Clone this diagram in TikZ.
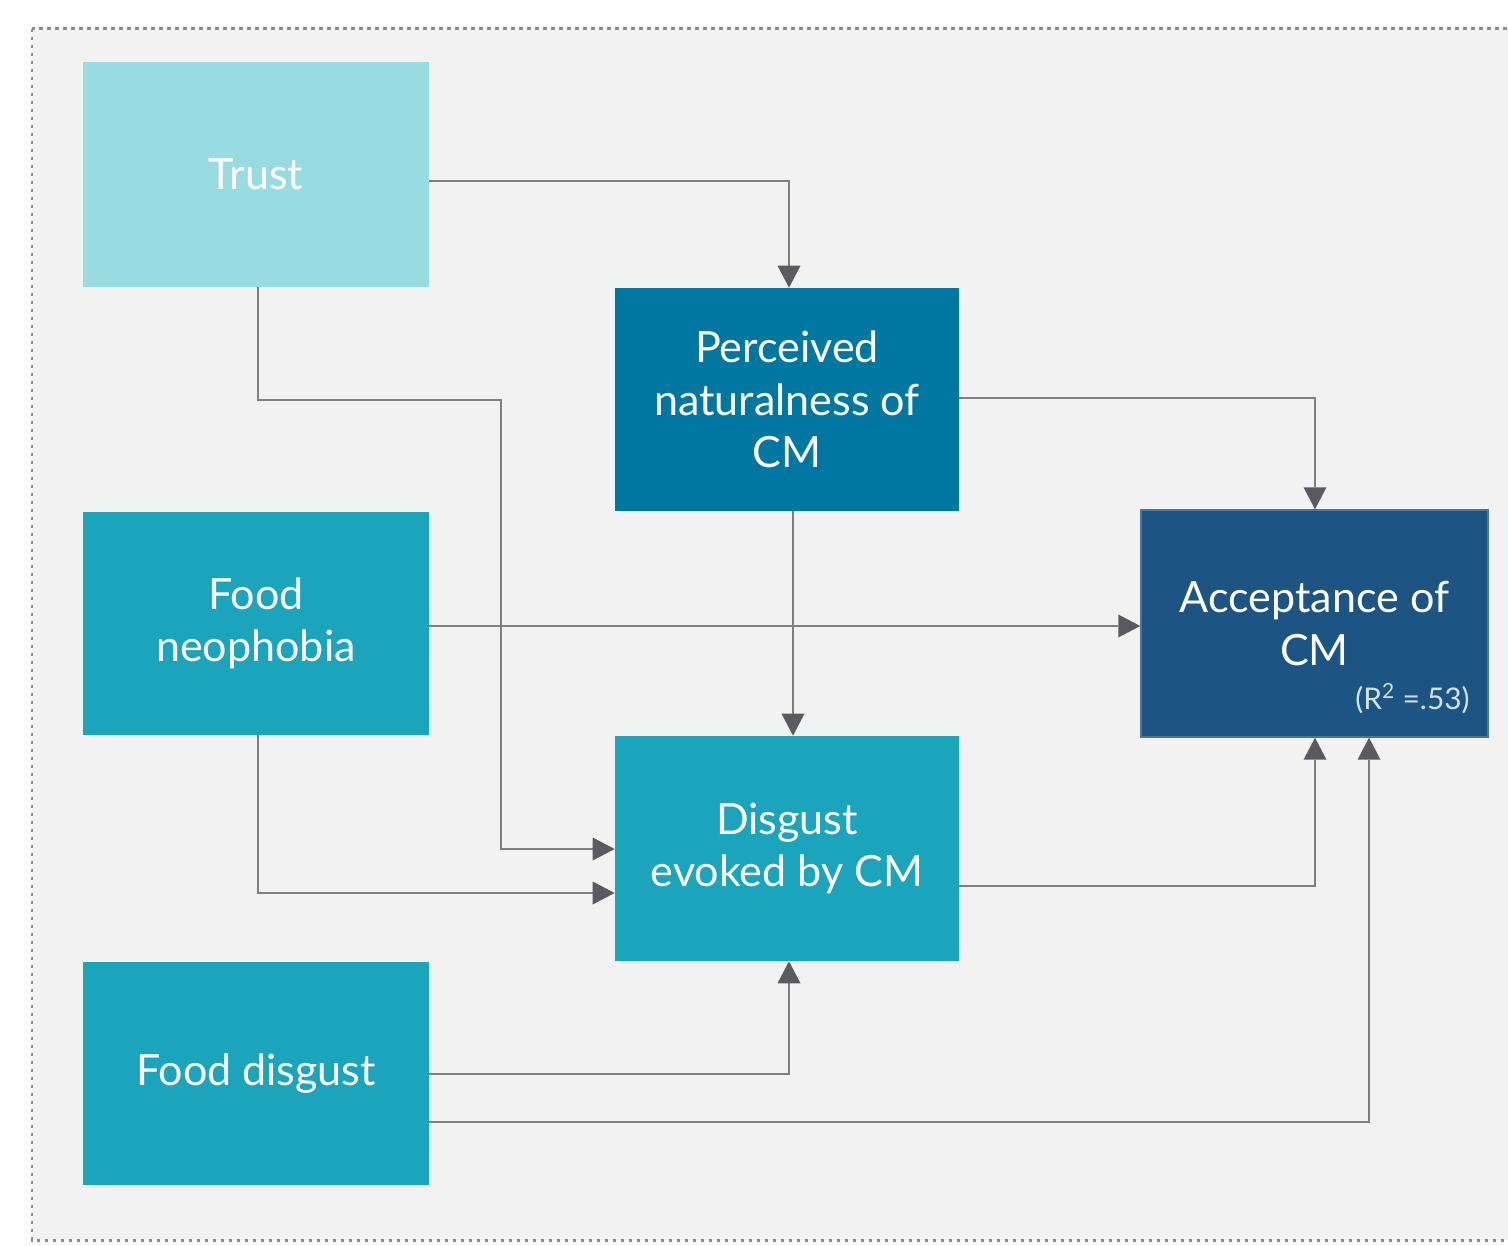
\documentclass[tikz,border=0pt]{standalone}
\usepackage{fontspec}
\setmainfont{Lato}
\usetikzlibrary{arrows.meta,calc}
\definecolor{bgc}{HTML}{F2F2F2}
\definecolor{trustc}{HTML}{98DBE0}
\definecolor{percc}{HTML}{0077A0}
\definecolor{midc}{HTML}{1BA5BD}
\definecolor{accc}{HTML}{1C5583}
\definecolor{linec}{HTML}{7F7F7F}
\definecolor{tipc}{HTML}{5A5A60}
\definecolor{rtc}{HTML}{D5E2EE}
\definecolor{dotc}{HTML}{8C8C8C}
\tikzset{
  box/.style={inner sep=0pt, text=white, align=center,
    font=\fontsize{24.5}{29.8}\selectfont},
  conn/.style={draw=linec, line width=0.04cm,
    -{Triangle[width=0.46cm,length=0.44cm,color=tipc,fill=tipc,line width=0pt]}}
}
\begin{document}
\begin{tikzpicture}[x=0.02cm,y=-0.02cm]
\useasboundingbox[fill=white] (0,0) rectangle (1508,1246);
\clip (0,0) rectangle (1508,1246);
\draw[fill=bgc, draw=dotc, line width=0.06cm, dash pattern=on 0.07cm off 0.09cm] (32,29) rectangle (1530,1240);

\node[box, fill=trustc, minimum width=6.92cm, minimum height=4.5cm] (trust) at (256,174.5) {Trust};
\node[box, fill=percc, minimum width=6.88cm, minimum height=4.46cm] (perc) at (787,399.5) {Perceived\\naturalness of\\CM};
\node[box, fill=midc, minimum width=6.92cm, minimum height=4.46cm] (neo) at (256,623.5) {Food\\neophobia};
\node[box, fill=midc, minimum width=6.88cm, minimum height=4.5cm] (disg) at (787,848.5) {Disgust\\evoked by CM};
\node[box, fill=midc, minimum width=6.92cm, minimum height=4.46cm] (fdis) at (256,1073.5) {Food disgust};
\node[box, fill=accc, draw=accc!80!white, line width=0.03cm, minimum width=6.94cm, minimum height=4.54cm] (acc) at (1314.5,623.5) {Acceptance of\\CM};
\node[anchor=east, text=rtc, inner sep=0pt, font=\fontsize{17}{20}\selectfont] (r2) at (1470,699) {(R\textsuperscript{2} =.53)};

\draw[conn] ($(trust.east)+(0,6.5)$) -| ($(perc.north)+(2,0)$);
\draw[conn] ($(trust.south)+(2,0)$) |- (501,400) |- ($(disg.west)+(0,0.5)$);
\draw[conn] ($(perc.east)+(0,-1.5)$) -| ($(acc.north)+(0.5,0)$);
\draw[conn] ($(perc.south)+(6,0)$) -- ($(disg.north)+(6,0)$);
\draw[conn] ($(neo.east)+(0,2.5)$) -- ($(acc.west)+(0,2.5)$);
\draw[conn] ($(neo.south)+(2,0)$) |- ($(disg.west)+(0,44.5)$);
\draw[conn] ($(disg.east)+(0,37.5)$) -| ($(acc.south)+(0.5,0)$);
\draw[conn] ($(fdis.east)+(0,0.5)$) -| ($(disg.south)+(2,0)$);
\draw[conn] ($(fdis.east)+(0,48.5)$) -| ($(acc.south)+(54.5,0)$);
\end{tikzpicture}
\end{document}
